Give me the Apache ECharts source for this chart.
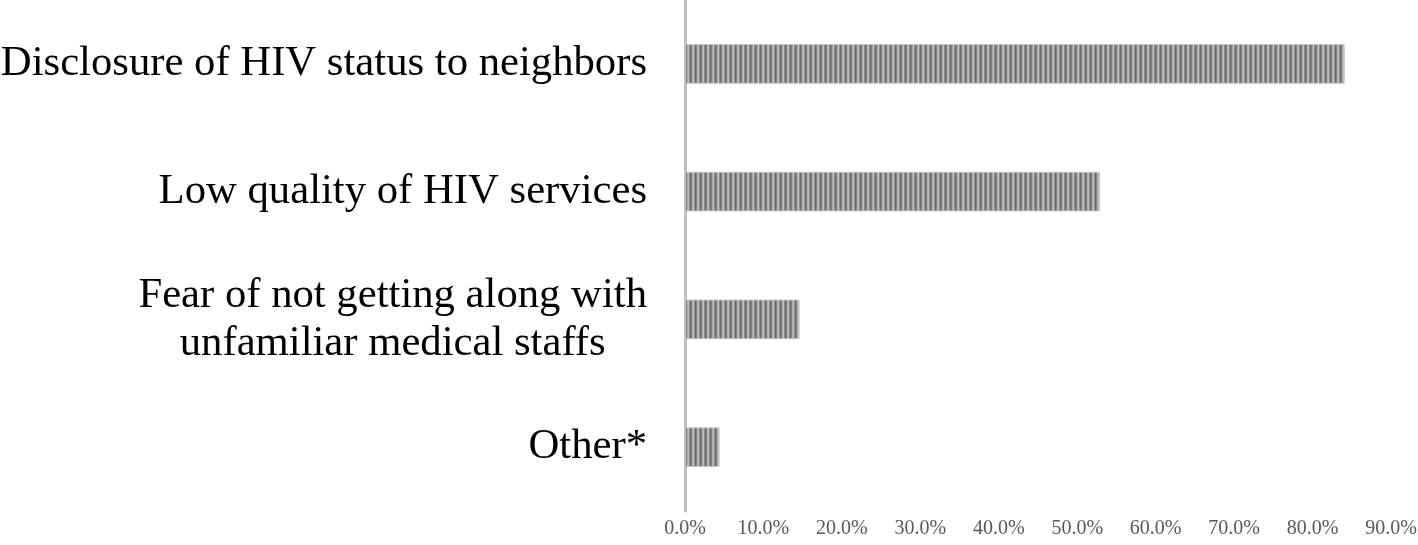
<!DOCTYPE html>
<html>
<head>
<meta charset="utf-8">
<script src="https://cdn.jsdelivr.net/npm/echarts@6/dist/echarts.min.js"></script>
<style>html,body{margin:0;padding:0;background:#fff;}#c{width:1418px;height:545px;}</style>
</head>
<body>
<div id="c"></div>
<script>
const categories = ['Disclosure of HIV status to neighbors', 'Low quality of HIV services', 'Fear of not getting along with\nunfamiliar medical staffs', 'Other*'];
const values = [84.1, 52.9, 14.6, 4.4];
const tickMax = 90;
const tickStep = 10;

const pc = document.createElement('canvas');
pc.width = 5; pc.height = 4;
const pctx = pc.getContext('2d');
const stripes = ['#6a6a6a', '#858585', '#aaaaaa', '#c0c0c0', '#8e8e8e'];
stripes.forEach((c, i) => { pctx.fillStyle = c; pctx.fillRect(i, 0, 1, 4); });

const chart = echarts.init(document.getElementById('c'));
chart.setOption({
  animation: false,
  grid: { left: 685, right: 27, top: 0, bottom: 34, containLabel: false, outerBoundsMode: 'none' },
  xAxis: {
    type: 'value', min: 0, max: tickMax, interval: tickStep,
    axisLine: { show: false }, axisTick: { show: false }, splitLine: { show: false },
    axisLabel: {
      formatter: v => v.toFixed(1) + '%',
      fontFamily: 'Liberation Serif', fontSize: 20, color: '#595959', margin: 8
    }
  },
  yAxis: {
    type: 'category', inverse: true, data: categories,
    axisLine: { show: true, lineStyle: { color: '#bfbfbf', width: 3 } },
    axisTick: { show: false },
    axisLabel: {
      margin: 38, align: 'right',
      formatter: v => v.split('\n').map(s => '{a|' + s + '}').join('\n'),
      rich: { a: { fontFamily: 'Liberation Serif', fontSize: 42.7, color: '#000', align: 'center', lineHeight: 48 } }
    }
  },
  series: [{
    type: 'bar', data: values, barWidth: '31%',
    itemStyle: { color: { image: pc, repeat: 'repeat' }, borderColor: '#c4c4c4', borderWidth: 1 }
  }]
});
</script>
</body>
</html>
